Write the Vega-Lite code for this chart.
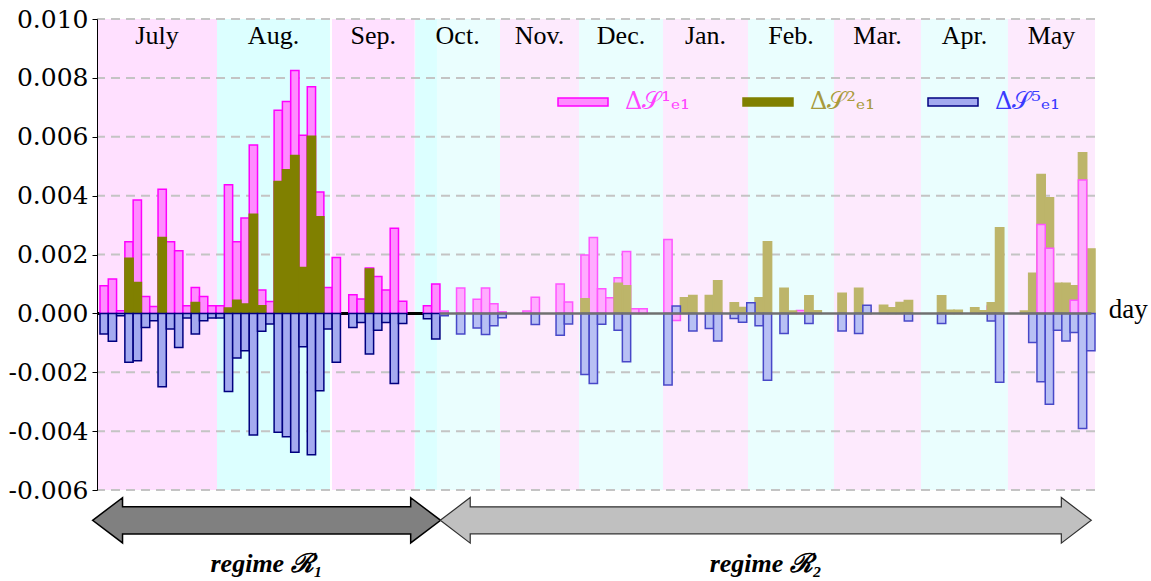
{
  "$schema": "https://vega.github.io/schema/vega-lite/v6.json",
  "width": 998,
  "height": 471,
  "autosize": {"type": "none"},
  "padding": {"left": 97, "top": 19, "right": 56, "bottom": 91},
  "background": "white",
  "config": {"view": {"stroke": null}, "font": "Liberation Serif",
             "axisY": {"labelFont": "DejaVu Serif", "labelFontSize": 25, "labelColor": "#000000"}},
  "datasets": {
    "months": [
      {"m": "July", "start": -0.36, "end": 14.11, "t": "p1"},
      {"m": "Aug.", "start": 14.11, "end": 27.74, "t": "c1"},
      {"m": "Sep.", "start": 27.98, "end": 37.95, "t": "p1"},
      {"m": "Oct.", "start": 38.02, "end": 48.24, "t": "c2"},
      {"m": "Nov.", "start": 48.24, "end": 57.77, "t": "p2"},
      {"m": "Dec.", "start": 57.77, "end": 67.9, "t": "c2"},
      {"m": "Jan.", "start": 67.9, "end": 78.15, "t": "p2"},
      {"m": "Feb.", "start": 78.15, "end": 88.52, "t": "c2"},
      {"m": "Mar.", "start": 88.52, "end": 99.01, "t": "p2"},
      {"m": "Apr.", "start": 99.01, "end": 109.5, "t": "c2"},
      {"m": "May", "start": 109.5, "end": 120, "t": "p2"},
      {"m": "", "start": 38.02, "end": 40.64, "t": "c1"}
    ],
    "grid": [{"g": -6}, {"g": -4}, {"g": -2}, {"g": 2}, {"g": 4}, {"g": 6}, {"g": 8}, {"g": 10}],
    "regimes": [
      {"r": "1", "start": -0.84, "end": 41.03, "lab": "regime ℛ₁"},
      {"r": "2", "start": 41.03, "end": 119.56, "lab": "regime ℛ₂"}
    ],
    "bars": [
      {"d": 0, "k": "1a", "v": 0.94}, {"d": 1, "k": "1a", "v": 1.17}, {"d": 2, "k": "1a", "v": 0.09},
      {"d": 3, "k": "1a", "v": 2.43}, {"d": 4, "k": "1a", "v": 3.85}, {"d": 5, "k": "1a", "v": 0.57},
      {"d": 6, "k": "1a", "v": 0.23}, {"d": 7, "k": "1a", "v": 4.22}, {"d": 8, "k": "1a", "v": 2.43},
      {"d": 9, "k": "1a", "v": 2.13}, {"d": 10, "k": "1a", "v": 0.26}, {"d": 11, "k": "1a", "v": 0.88},
      {"d": 12, "k": "1a", "v": 0.57}, {"d": 13, "k": "1a", "v": 0.26}, {"d": 14, "k": "1a", "v": 0.26},
      {"d": 15, "k": "1a", "v": 4.37}, {"d": 16, "k": "1a", "v": 2.43}, {"d": 17, "k": "1a", "v": 3.24},
      {"d": 18, "k": "1a", "v": 5.72}, {"d": 19, "k": "1a", "v": 0.79}, {"d": 20, "k": "1a", "v": 0.4},
      {"d": 21, "k": "1a", "v": 6.9}, {"d": 22, "k": "1a", "v": 7.2}, {"d": 23, "k": "1a", "v": 8.25},
      {"d": 24, "k": "1a", "v": 6.05}, {"d": 25, "k": "1a", "v": 7.7}, {"d": 26, "k": "1a", "v": 4.12},
      {"d": 27, "k": "1a", "v": 0.88}, {"d": 28, "k": "1a", "v": 1.9}, {"d": 30, "k": "1a", "v": 0.63},
      {"d": 31, "k": "1a", "v": 0.49}, {"d": 32, "k": "1a", "v": 1.54}, {"d": 33, "k": "1a", "v": 1.25},
      {"d": 34, "k": "1a", "v": 0.79}, {"d": 35, "k": "1a", "v": 2.89}, {"d": 36, "k": "1a", "v": 0.41},
      {"d": 39, "k": "1a", "v": 0.26}, {"d": 40, "k": "1a", "v": 1.0},
      {"d": 41, "k": "1b", "v": 0.08}, {"d": 43, "k": "1b", "v": 0.86}, {"d": 45, "k": "1b", "v": 0.48},
      {"d": 46, "k": "1b", "v": 0.86}, {"d": 47, "k": "1b", "v": 0.33}, {"d": 48, "k": "1b", "v": 0.05},
      {"d": 51, "k": "1b", "v": 0.08}, {"d": 52, "k": "1b", "v": 0.55}, {"d": 55, "k": "1b", "v": 1.0},
      {"d": 56, "k": "1b", "v": 0.39}, {"d": 58, "k": "1b", "v": 1.98}, {"d": 59, "k": "1b", "v": 2.58},
      {"d": 60, "k": "1b", "v": 0.84}, {"d": 61, "k": "1b", "v": 0.53}, {"d": 62, "k": "1b", "v": 1.21},
      {"d": 63, "k": "1b", "v": 2.1}, {"d": 64, "k": "1b", "v": 0.16}, {"d": 65, "k": "1b", "v": 0.16},
      {"d": 68, "k": "1b", "v": 2.51}, {"d": 69, "k": "1b", "v": -0.24}, {"d": 74, "k": "1b", "v": 0.08},
      {"d": 84, "k": "1b", "v": 0.1}, {"d": 107, "k": "1b", "v": 0.25},
      {"d": 3, "k": "2a", "v": 1.87}, {"d": 4, "k": "2a", "v": 1.05}, {"d": 7, "k": "2a", "v": 2.58},
      {"d": 11, "k": "2a", "v": 0.37}, {"d": 15, "k": "2a", "v": 0.18}, {"d": 16, "k": "2a", "v": 0.45},
      {"d": 17, "k": "2a", "v": 0.32}, {"d": 18, "k": "2a", "v": 3.37}, {"d": 19, "k": "2a", "v": 0.26},
      {"d": 21, "k": "2a", "v": 4.48}, {"d": 22, "k": "2a", "v": 4.88}, {"d": 23, "k": "2a", "v": 5.36},
      {"d": 24, "k": "2a", "v": 1.56}, {"d": 25, "k": "2a", "v": 6.02}, {"d": 26, "k": "2a", "v": 3.28},
      {"d": 32, "k": "2a", "v": 1.51},
      {"d": 58, "k": "2b", "v": 0.5}, {"d": 62, "k": "2b", "v": 1.02}, {"d": 63, "k": "2b", "v": 0.94},
      {"d": 70, "k": "2b", "v": 0.53}, {"d": 71, "k": "2b", "v": 0.61}, {"d": 73, "k": "2b", "v": 0.61},
      {"d": 74, "k": "2b", "v": 1.11}, {"d": 76, "k": "2b", "v": 0.36}, {"d": 77, "k": "2b", "v": 0.2},
      {"d": 79, "k": "2b", "v": 0.53}, {"d": 80, "k": "2b", "v": 2.43}, {"d": 82, "k": "2b", "v": 0.85},
      {"d": 83, "k": "2b", "v": 0.08}, {"d": 85, "k": "2b", "v": 0.6}, {"d": 86, "k": "2b", "v": 0.09},
      {"d": 89, "k": "2b", "v": 0.68}, {"d": 91, "k": "2b", "v": 0.85}, {"d": 92, "k": "2b", "v": 0.12},
      {"d": 94, "k": "2b", "v": 0.28}, {"d": 95, "k": "2b", "v": 0.19}, {"d": 96, "k": "2b", "v": 0.37},
      {"d": 97, "k": "2b", "v": 0.44}, {"d": 101, "k": "2b", "v": 0.6}, {"d": 102, "k": "2b", "v": 0.11},
      {"d": 103, "k": "2b", "v": 0.11}, {"d": 105, "k": "2b", "v": 0.19}, {"d": 106, "k": "2b", "v": 0.09},
      {"d": 107, "k": "2b", "v": 0.36}, {"d": 108, "k": "2b", "v": 2.91}, {"d": 111, "k": "2b", "v": 0.08},
      {"d": 112, "k": "2b", "v": 1.36}, {"d": 113, "k": "2b", "v": 4.72}, {"d": 114, "k": "2b", "v": 3.93},
      {"d": 115, "k": "2b", "v": 1.02}, {"d": 116, "k": "2b", "v": 1.02}, {"d": 117, "k": "2b", "v": 0.94},
      {"d": 118, "k": "2b", "v": 5.46}, {"d": 119, "k": "2b", "v": 2.19},
      {"d": 113, "k": "1b", "v": 3.02}, {"d": 114, "k": "1b", "v": 2.21}, {"d": 117, "k": "1b", "v": 0.45},
      {"d": 118, "k": "1b", "v": 4.53},
      {"d": 0, "k": "5a", "v": -0.7}, {"d": 1, "k": "5a", "v": -0.95}, {"d": 2, "k": "5a", "v": -0.08},
      {"d": 3, "k": "5a", "v": -1.66}, {"d": 4, "k": "5a", "v": -1.61}, {"d": 5, "k": "5a", "v": -0.48},
      {"d": 6, "k": "5a", "v": -0.25}, {"d": 7, "k": "5a", "v": -2.49}, {"d": 8, "k": "5a", "v": -0.53},
      {"d": 9, "k": "5a", "v": -1.16}, {"d": 10, "k": "5a", "v": -0.16}, {"d": 11, "k": "5a", "v": -0.7},
      {"d": 12, "k": "5a", "v": -0.25}, {"d": 13, "k": "5a", "v": -0.16}, {"d": 14, "k": "5a", "v": -0.16},
      {"d": 15, "k": "5a", "v": -2.65}, {"d": 16, "k": "5a", "v": -1.52}, {"d": 17, "k": "5a", "v": -1.27},
      {"d": 18, "k": "5a", "v": -4.13}, {"d": 19, "k": "5a", "v": -0.61}, {"d": 20, "k": "5a", "v": -0.36},
      {"d": 21, "k": "5a", "v": -4.04}, {"d": 22, "k": "5a", "v": -4.19}, {"d": 23, "k": "5a", "v": -4.72},
      {"d": 24, "k": "5a", "v": -1.13}, {"d": 25, "k": "5a", "v": -4.8}, {"d": 26, "k": "5a", "v": -2.63},
      {"d": 27, "k": "5a", "v": -0.53}, {"d": 28, "k": "5a", "v": -1.66}, {"d": 30, "k": "5a", "v": -0.48},
      {"d": 31, "k": "5a", "v": -0.31}, {"d": 32, "k": "5a", "v": -1.38}, {"d": 33, "k": "5a", "v": -0.57},
      {"d": 34, "k": "5a", "v": -0.31}, {"d": 35, "k": "5a", "v": -2.38}, {"d": 36, "k": "5a", "v": -0.34},
      {"d": 39, "k": "5a", "v": -0.18}, {"d": 40, "k": "5a", "v": -0.87},
      {"d": 41, "k": "5b", "v": -0.08}, {"d": 43, "k": "5b", "v": -0.7}, {"d": 45, "k": "5b", "v": -0.5},
      {"d": 46, "k": "5b", "v": -0.72}, {"d": 47, "k": "5b", "v": -0.42}, {"d": 48, "k": "5b", "v": -0.15},
      {"d": 52, "k": "5b", "v": -0.38}, {"d": 55, "k": "5b", "v": -0.74}, {"d": 56, "k": "5b", "v": -0.36},
      {"d": 58, "k": "5b", "v": -2.08}, {"d": 59, "k": "5b", "v": -2.38}, {"d": 60, "k": "5b", "v": -0.37},
      {"d": 62, "k": "5b", "v": -0.57}, {"d": 63, "k": "5b", "v": -1.64}, {"d": 68, "k": "5b", "v": -2.43},
      {"d": 69, "k": "5b", "v": 0.25}, {"d": 71, "k": "5b", "v": -0.6}, {"d": 73, "k": "5b", "v": -0.51},
      {"d": 74, "k": "5b", "v": -0.94}, {"d": 76, "k": "5b", "v": -0.17}, {"d": 77, "k": "5b", "v": -0.3},
      {"d": 78, "k": "5b", "v": 0.36}, {"d": 79, "k": "5b", "v": -0.42}, {"d": 80, "k": "5b", "v": -2.27},
      {"d": 82, "k": "5b", "v": -0.68}, {"d": 85, "k": "5b", "v": -0.34}, {"d": 89, "k": "5b", "v": -0.6},
      {"d": 91, "k": "5b", "v": -0.68}, {"d": 92, "k": "5b", "v": 0.28}, {"d": 97, "k": "5b", "v": -0.26},
      {"d": 101, "k": "5b", "v": -0.34}, {"d": 107, "k": "5b", "v": -0.26}, {"d": 108, "k": "5b", "v": -2.34},
      {"d": 112, "k": "5b", "v": -0.99}, {"d": 113, "k": "5b", "v": -2.32}, {"d": 114, "k": "5b", "v": -3.09},
      {"d": 115, "k": "5b", "v": -0.57}, {"d": 116, "k": "5b", "v": -0.94}, {"d": 117, "k": "5b", "v": -0.65},
      {"d": 118, "k": "5b", "v": -3.91}, {"d": 119, "k": "5b", "v": -1.27}
    ]
  },
  "layer": [
    {
      "data": {"name": "months"},
      "mark": {"type": "rect"},
      "encoding": {
        "x": {"field": "start", "type": "quantitative",
              "scale": {"domain": [-0.36, 120], "nice": false, "zero": false},
              "axis": {"title": null, "labels": false, "domain": false, "grid": false, "tickCount": 120,
                       "tickColor": "#808080", "tickSize": 6, "tickWidth": 1, "position": 295, "zindex": 1}},
        "x2": {"field": "end"},
        "color": {"field": "t", "type": "nominal",
                  "scale": {"domain": ["p1", "c1", "p2", "c2"], "range": ["#ffe0ff", "#dcffff", "#fdeafd", "#eafefe"]},
                  "legend": null}
      }
    },
    {
      "data": {"name": "grid"},
      "mark": {"type": "rule", "color": "#c4c4c4", "strokeWidth": 2, "strokeDash": [9, 6]},
      "encoding": {
        "y": {"field": "g", "type": "quantitative", "scale": {"domain": [-6, 10], "nice": false, "zero": false}}
      }
    },
    {
      "data": {"name": "months"},
      "transform": [{"filter": "datum.m != ''"}, {"calculate": "(datum.start + datum.end) / 2", "as": "mid"}],
      "mark": {"type": "text", "font": "Liberation Serif", "fontSize": 26, "baseline": "alphabetic", "color": "#000000"},
      "encoding": {
        "x": {"field": "mid", "type": "quantitative", "axis": null},
        "y": {"datum": 9.14, "type": "quantitative"},
        "text": {"field": "m"}
      }
    },
    {
      "data": {"name": "regimes"},
      "transform": [{"filter": "datum.r == '1'"}],
      "mark": {"type": "rule", "color": "#000000", "strokeWidth": 3, "clip": true},
      "encoding": {
        "x": {"field": "start", "type": "quantitative", "axis": null},
        "x2": {"field": "end"},
        "y": {"datum": 0, "type": "quantitative"}
      }
    },
    {
      "data": {"name": "bars"},
      "transform": [{"calculate": "datum.d + 1", "as": "d2"}],
      "mark": {"type": "bar", "strokeWidth": 1.5},
      "encoding": {
        "x": {"field": "d", "type": "quantitative", "axis": null},
        "x2": {"field": "d2"},
        "y": {"field": "v", "type": "quantitative",
              "scale": {"domain": [-6, 10], "nice": false, "zero": false},
              "axis": {"orient": "left", "title": null, "tickCount": 8, "grid": false,
                       "labelExpr": "(datum.value < 0 ? '-' : '') + format(abs(datum.value) / 1000, '.3f')",
                       "labelFont": "DejaVu Serif", "labelFontSize": 25, "labelColor": "#000000",
                       "domain": true, "domainColor": "#000000", "domainWidth": 1, "ticks": true,
                       "tickColor": "#000000", "tickSize": 5, "tickWidth": 1,
                       "labelPadding": 4, "zindex": 1}},
        "y2": {"datum": 0},
        "fill": {"field": "k", "type": "nominal",
                 "scale": {"domain": ["1a", "2a", "5a", "1b", "2b", "5b"],
                           "range": ["#ff8cff", "#808000", "#a4aaf0", "#ffacff", "#bdb56a", "#b8c0f4"]},
                 "legend": {"orient": "none", "legendX": 460, "legendY": 57, "direction": "horizontal",
                            "title": null, "values": ["1a", "2a", "5a"],
                            "labelExpr": "datum.value == '1a' ? 'Δ𝒮¹ₑ₁' : datum.value == '2a' ? 'Δ𝒮²ₑ₁' : 'Δ𝒮⁵ₑ₁'",
                            "symbolType": "M-1,-0.16H1V0.16H-1Z", "symbolSize": 2500, "symbolStrokeWidth": 1.5,
                            "labelFont": "DejaVu Serif", "labelFontSize": 24, "labelOffset": 16,
                            "columnPadding": 50, "padding": 0, "labelLimit": 200,
                            "encode": {
                              "symbols": {"update": {"stroke": {"scale": "stroke", "field": "value"}, "strokeWidth": {"value": 1.5}}},
                              "labels": {"update": {"fill": {"signal": "datum.value == '1a' ? '#ff44ff' : datum.value == '2a' ? '#a89a3c' : '#3a3aff'"}}}
                            }}},
        "stroke": {"field": "k", "type": "nominal",
                   "scale": {"domain": ["1a", "2a", "5a", "1b", "2b", "5b"],
                             "range": ["#ff00ff", "#808000", "#000080", "#ff55ff", "#bdb56a", "#4848c8"]},
                   "legend": null}
      }
    },
    {
      "data": {"name": "regimes"},
      "transform": [{"filter": "datum.r == '2'"}],
      "mark": {"type": "rule", "color": "#707070", "strokeWidth": 2.5, "clip": true},
      "encoding": {
        "x": {"field": "start", "type": "quantitative", "axis": null},
        "x2": {"field": "end"},
        "y": {"datum": 0, "type": "quantitative"}
      }
    },
    {
      "data": {"name": "regimes"},
      "transform": [{"filter": "datum.r == '1'"}, {"calculate": "(datum.start + datum.end) / 2", "as": "mid"}],
      "mark": {"type": "point", "filled": true, "fill": "#808080", "stroke": "#000000", "strokeWidth": 1.5, "opacity": 1,
               "size": 121104,
               "shape": "M-1,0L-0.828,-0.13L-0.828,-0.078L0.828,-0.078L0.828,-0.13L1,0L0.828,0.13L0.828,0.078L-0.828,0.078L-0.828,0.13Z"},
      "encoding": {
        "x": {"field": "mid", "type": "quantitative", "axis": null},
        "y": {"datum": -7.03, "type": "quantitative"}
      }
    },
    {
      "data": {"name": "regimes"},
      "transform": [{"filter": "datum.r == '2'"}, {"calculate": "(datum.start + datum.end) / 2", "as": "mid"}],
      "mark": {"type": "point", "filled": true, "fill": "#c0c0c0", "stroke": "#303030", "strokeWidth": 1.2, "opacity": 1,
               "size": 423801,
               "shape": "M-1,0L-0.908,-0.07L-0.908,-0.0415L0.908,-0.0415L0.908,-0.07L1,0L0.908,0.07L0.908,0.0415L-0.908,0.0415L-0.908,0.07Z"},
      "encoding": {
        "x": {"field": "mid", "type": "quantitative", "axis": null},
        "y": {"datum": -7.03, "type": "quantitative"}
      }
    },
    {
      "data": {"name": "regimes"},
      "transform": [{"calculate": "(datum.start + datum.end) / 2", "as": "mid"}],
      "mark": {"type": "text", "font": "Liberation Serif", "fontSize": 26, "fontWeight": "bold", "fontStyle": "italic",
               "baseline": "middle", "color": "#000000"},
      "encoding": {
        "x": {"field": "mid", "type": "quantitative", "axis": null},
        "y": {"datum": -8.53, "type": "quantitative"},
        "text": {"field": "lab"}
      }
    },
    {
      "data": {"values": [{"lab": "day"}]},
      "mark": {"type": "text", "font": "Liberation Serif", "fontSize": 27, "baseline": "alphabetic", "color": "#000000"},
      "encoding": {
        "x": {"datum": 124, "type": "quantitative", "axis": null},
        "y": {"datum": -0.17, "type": "quantitative"},
        "text": {"field": "lab"}
      }
    }
  ]
}
